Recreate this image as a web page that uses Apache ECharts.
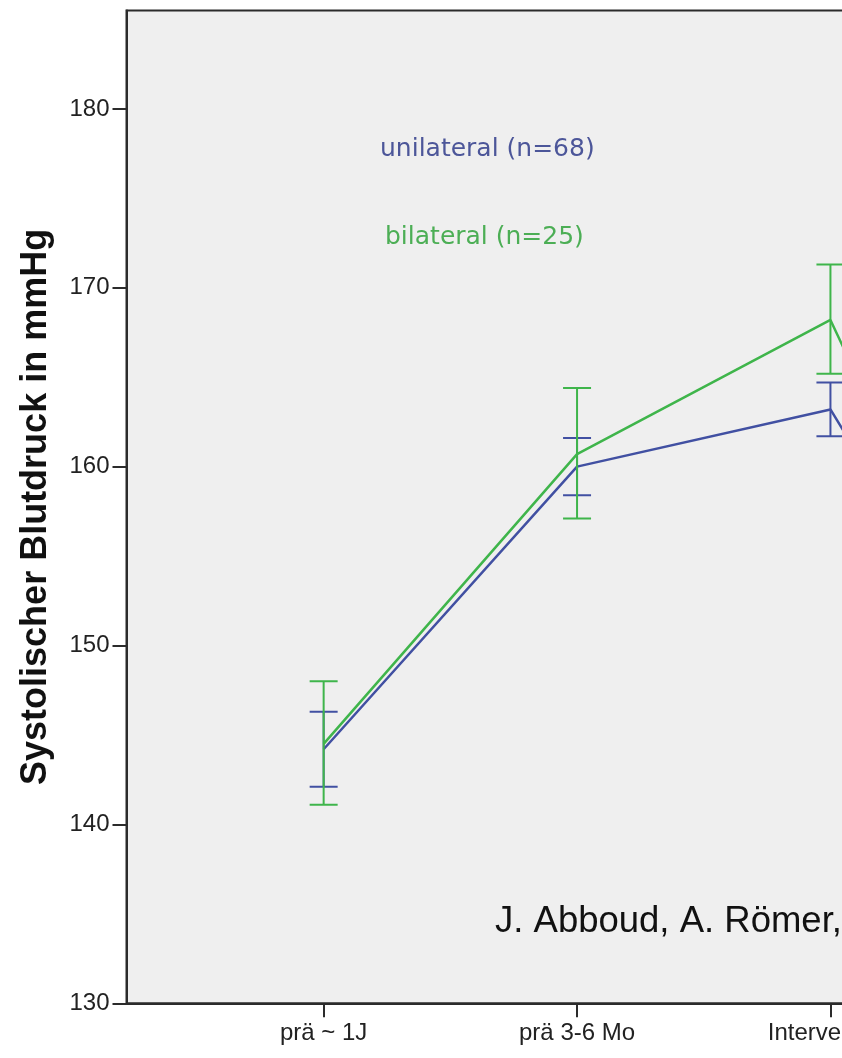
<!DOCTYPE html>
<html>
<head>
<meta charset="utf-8">
<script src="https://cdn.jsdelivr.net/npm/echarts@6/dist/echarts.min.js"></script>
<style>
  html, body { margin: 0; padding: 0; background: #fff; overflow: hidden; }
  #chart { width: 842px; height: 1058px; }
</style>
</head>
<body>
<div id="chart"></div>
<script>
// Measurement points along the time axis
const categories = ['prä ~ 1J', 'prä 3-6 Mo', 'Intervention', 'post'];
const yTicks = [130, 140, 150, 160, 170, 180];

// Mean systolic pressure with confidence interval, unilateral group
const uniMean = [144.2, 160.0, 163.2, 140.0];
const uniLow  = [142.1, 158.4, 161.7, 138.0];
const uniHigh = [146.3, 161.6, 164.7, 142.0];

// Mean systolic pressure with confidence interval, bilateral group
const biMean = [144.5, 160.7, 168.2, 138.0];
const biLow  = [141.1, 157.1, 165.2, 135.0];
const biHigh = [148.0, 164.4, 171.3, 141.0];

const uniName = 'unilateral (n=68)';
const biName = 'bilateral (n=25)';
const yTitle = 'Systolischer Blutdruck in mmHg';
const authors = 'J. Abboud, A. Römer,';

const BLUE = '#4150a2';
const GREEN = '#3fb54b';
const BLUE_TEXT = '#4c5699';
const GREEN_TEXT = '#4cae55';

// x range (in category index units) and pixel width per category step
const X_MIN = -0.778, X_MAX = 3.5, STEP = 253.4;

function errorBars(name, low, high, color, z) {
  return {
    type: 'custom',
    name: name,
    silent: true,
    z: z,
    clip: true,
    data: low.map((l, i) => [i, l, high[i]]),
    encode: { x: 0, y: [1, 2] },
    renderItem(params, api) {
      const x = api.value(0);
      const lo = api.coord([x, api.value(1)]);
      const hi = api.coord([x, api.value(2)]);
      const hw = 14;
      const style = { stroke: color, lineWidth: 2 };
      return {
        type: 'group',
        children: [
          { type: 'line', shape: { x1: lo[0], y1: lo[1], x2: hi[0], y2: hi[1] }, style },
          { type: 'line', shape: { x1: lo[0] - hw, y1: lo[1], x2: lo[0] + hw, y2: lo[1] }, style },
          { type: 'line', shape: { x1: hi[0] - hw, y1: hi[1], x2: hi[0] + hw, y2: hi[1] }, style }
        ]
      };
    }
  };
}

function meanLine(name, values, color, z) {
  return {
    type: 'line',
    name: name,
    z: z,
    silent: true,
    symbol: 'none',
    data: values.map((v, i) => [i, v]),
    lineStyle: { color: color, width: 2.5 },
    itemStyle: { color: color }
  };
}

const chart = echarts.init(document.getElementById('chart'), null, { renderer: 'canvas' });

chart.setOption({
  animation: false,
  backgroundColor: '#ffffff',
  grid: {
    left: 126.5,
    top: 10.5,
    bottom: 54.7,
    width: (X_MAX - X_MIN) * STEP,
    outerBoundsMode: 'none',
    containLabel: false,
    show: true,
    backgroundColor: '#efefef',
    borderColor: '#2b2b2b',
    borderWidth: 2
  },
  xAxis: {
    type: 'value',
    min: X_MIN,
    max: X_MAX,
    splitLine: { show: false },
    axisLine: { show: true, onZero: false, lineStyle: { color: '#2b2b2b', width: 2 } },
    axisTick: {
      show: true, inside: false, length: 14,
      customValues: categories.map((c, i) => i),
      lineStyle: { color: '#2b2b2b', width: 2 }
    },
    axisLabel: {
      customValues: categories.map((c, i) => i),
      formatter: v => categories[Math.round(v)],
      margin: 18,
      color: '#222',
      fontFamily: 'Liberation Sans',
      fontSize: 24
    }
  },
  yAxis: {
    type: 'value',
    min: 130,
    max: 185.5,
    splitLine: { show: false },
    axisLine: { show: true, onZero: false, lineStyle: { color: '#2b2b2b', width: 2 } },
    axisTick: {
      show: true, inside: false, length: 14,
      customValues: yTicks,
      lineStyle: { color: '#2b2b2b', width: 2 }
    },
    axisLabel: {
      customValues: yTicks,
      margin: 17,
      color: '#222',
      fontFamily: 'Liberation Sans',
      fontSize: 24
    },
    name: yTitle,
    nameLocation: 'middle',
    nameRotate: 90,
    nameGap: 72,
    nameTextStyle: {
      color: '#111',
      fontFamily: 'Liberation Sans',
      fontWeight: 'bold',
      fontSize: 36
    }
  },
  legend: [
    {
      data: [{ name: uniName, textStyle: { color: BLUE_TEXT } }],
      left: 375, top: 137, padding: 0,
      icon: 'none', itemWidth: 0, itemHeight: 25,
      selectedMode: false,
      textStyle: { fontFamily: 'DejaVu Sans', fontSize: 25 }
    },
    {
      data: [{ name: biName, textStyle: { color: GREEN_TEXT } }],
      left: 380, top: 225, padding: 0,
      icon: 'none', itemWidth: 0, itemHeight: 25,
      selectedMode: false,
      textStyle: { fontFamily: 'DejaVu Sans', fontSize: 25 }
    }
  ],
  graphic: [
    {
      type: 'text',
      left: 495,
      top: 903,
      silent: true,
      style: {
        text: authors,
        fill: '#111',
        font: '36.5px "Liberation Sans"'
      }
    }
  ],
  series: [
    errorBars(uniName + ' CI', uniLow, uniHigh, BLUE, 2),
    meanLine(uniName, uniMean, BLUE, 3),
    errorBars(biName + ' CI', biLow, biHigh, GREEN, 4),
    meanLine(biName, biMean, GREEN, 5)
  ]
});
</script>
</body>
</html>
